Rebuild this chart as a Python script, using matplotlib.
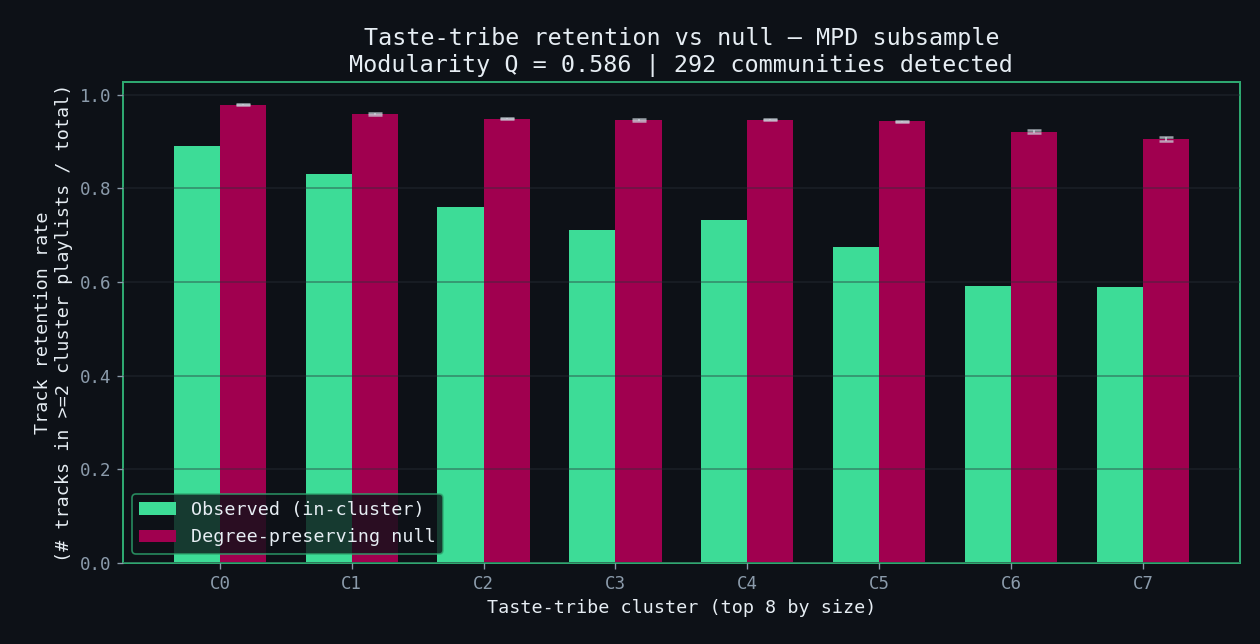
import matplotlib

matplotlib.use("Agg")
import matplotlib.pyplot as plt
import numpy as np

clusters = ["C0", "C1", "C2", "C3", "C4", "C5", "C6", "C7"]
observed = [0.891, 0.831, 0.761, 0.712, 0.733, 0.675, 0.592, 0.590]
null_mean = [0.979, 0.960, 0.949, 0.947, 0.947, 0.944, 0.921, 0.906]
null_std = [0.001, 0.002, 0.001, 0.002, 0.001, 0.001, 0.003, 0.004]

BG = "#0d1117"
GREEN = "#3ddc97"
MAGENTA = "#a0004f"
SPINE = "#2ea870"
TEXT = "#e6edf3"
TICK = "#8b9bab"

plt.rcParams["font.family"] = ["DejaVu Sans Mono"]

fig, ax = plt.subplots(figsize=(10.5, 5.3667), dpi=120)
fig.patch.set_facecolor(BG)
ax.set_facecolor(BG)

x = np.arange(len(clusters))
w = 0.35
ax.bar(x - w / 2, observed, w, color=GREEN, label="Observed (in-cluster)", zorder=2)
ax.bar(x + w / 2, null_mean, w, color=MAGENTA, label="Degree-preserving null",
       yerr=null_std, capsize=4,
       error_kw=dict(ecolor="#c9d1d9", alpha=0.75, elinewidth=1.2, capthick=1.5), zorder=2)

ax.set_ylim(0, max(null_mean) * 1.05)
ax.set_xticks(x)
ax.set_xticklabels(clusters)
ax.set_axisbelow(False)
ax.grid(axis="y", color="#2a3038", alpha=0.45, linewidth=1.0, zorder=3)

for s in ax.spines.values():
    s.set_color(SPINE)
    s.set_linewidth(1.2)
ax.tick_params(colors=TICK, labelsize=10.5)

ax.set_xlabel("Taste-tribe cluster (top 8 by size)", color=TEXT, fontsize=11)
ax.set_ylabel("Track retention rate\n(# tracks in >=2 cluster playlists / total)", color=TEXT, fontsize=11)
ax.set_title("Taste-tribe retention vs null — MPD subsample\n"
             "Modularity Q = 0.586 | 292 communities detected", color=TEXT, fontsize=14)

leg = ax.legend(loc="lower left", fontsize=11, facecolor=BG, edgecolor=SPINE, framealpha=0.8,
                labelcolor=TEXT)
leg.set_zorder(5)

fig.subplots_adjust(left=0.0976, right=0.984, top=0.873, bottom=0.1258)
fig.savefig("out.png", dpi=120, facecolor=BG)
